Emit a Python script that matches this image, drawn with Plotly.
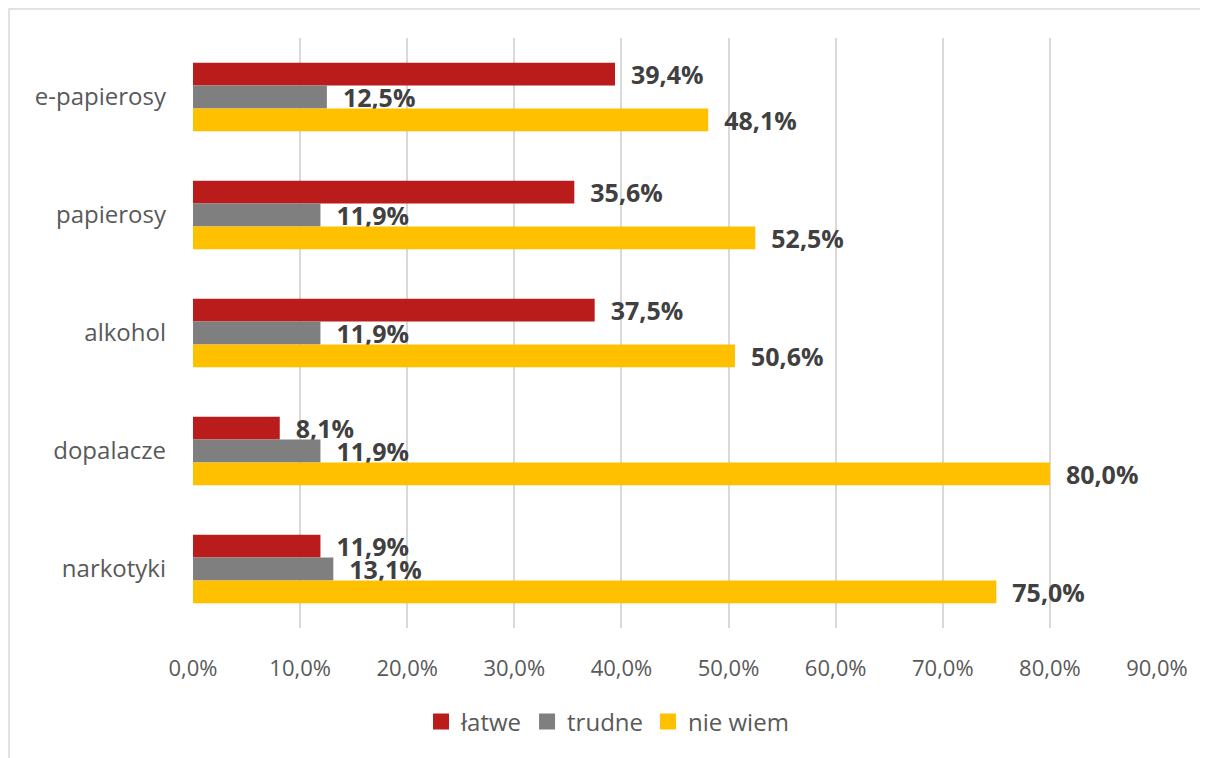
import plotly.graph_objects as go

categories = ["e-papierosy", "papierosy", "alkohol", "dopalacze", "narkotyki"]
series_names = ["łatwe", "trudne", "nie wiem"]
latwe = [39.4, 35.6, 37.5, 8.1, 11.9]
trudne = [12.5, 11.9, 11.9, 11.9, 13.1]
nie_wiem = [48.1, 52.5, 50.6, 80.0, 75.0]
colors = ["#BA1C1C", "#7F7F7F", "#FFC000"]
tick_vals = [0, 10, 20, 30, 40, 50, 60, 70, 80, 90]
tick_text = ["0,0%", "10,0%", "20,0%", "30,0%", "40,0%", "50,0%", "60,0%", "70,0%", "80,0%", "90,0%"]

FONT = "Open Sans"

def fmt(v):
    return "  " + f"{v:.1f}".replace(".", ",") + "%"

fig = go.Figure()
for name, vals, col in zip(series_names, [latwe, trudne, nie_wiem], colors):
    fig.add_trace(go.Bar(
        y=categories, x=vals, name=name, orientation="h",
        marker=dict(color=col, line=dict(width=0)),
        text=[fmt(v) for v in vals], textposition="outside",
        textfont=dict(family=FONT, size=25, color="#404040", weight="bold"),
        constraintext="none", cliponaxis=False, showlegend=False,
    ))
# legend entries with larger square swatches
for name, col in zip(series_names, colors):
    fig.add_trace(go.Scatter(
        x=[None], y=[None], mode="markers", name=name,
        marker=dict(symbol="square", size=16, color=col),
        showlegend=True,
    ))

W, H = 1208, 758
L, R, T, B = 185, 59, 30, 138
pw, ph = W - L - R, H - T - B

fig.update_layout(
    width=W, height=H,
    barmode="group", bargap=0.42, bargroupgap=0,
    margin=dict(l=L, r=R, t=T, b=B, pad=0),
    plot_bgcolor="white", paper_bgcolor="white",
    font=dict(family=FONT, color="#595959"),
    xaxis=dict(range=[0, 90], tickvals=tick_vals, ticktext=tick_text,
               showgrid=True, gridcolor="#D9D9D9", gridwidth=2,
               zeroline=False, showline=False,
               tickfont=dict(size=22, color="#595959"), ticks="", ticklen=0,
               ticklabelstandoff=25),
    yaxis=dict(autorange="reversed", showgrid=False, showline=False,
               tickfont=dict(size=24, color="#595959"), ticks="", ticklen=0,
               ticklabelstandoff=26),
    legend=dict(orientation="h", x=0.43, xanchor="center", y=-0.159, yanchor="middle",
                font=dict(size=24, color="#595959"), itemwidth=30),
    showlegend=True,
    shapes=[dict(type="rect", xref="paper", yref="paper",
                 x0=(1 - L) / pw, x1=(W + 10 - L) / pw,
                 y0=-(B + 10) / ph, y1=1 + (T - 1) / ph,
                 line=dict(color="#D9D9D9", width=1.5), fillcolor="rgba(0,0,0,0)", layer="below")],
)

fig.write_html("out.html")
